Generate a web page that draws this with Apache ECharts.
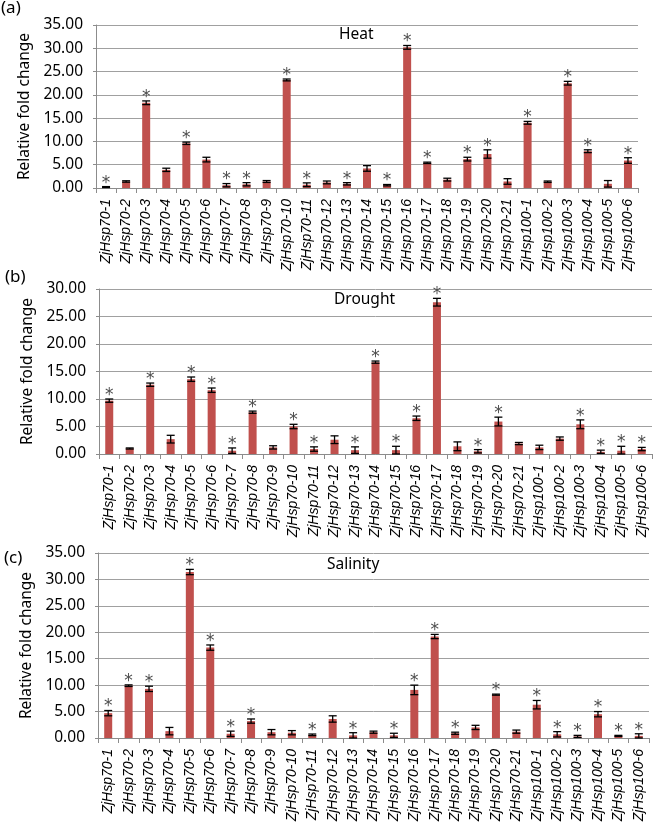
<!DOCTYPE html>
<html>
<head>
<meta charset="utf-8">
<script src="https://cdn.jsdelivr.net/npm/echarts@6/dist/echarts.min.js"></script>
<style>
html,body{margin:0;padding:0;background:#fff;}
#chart{width:657px;height:830px;}
</style>
</head>
<body>
<div id="chart"></div>
<script>
const categories = ['ZjHsp70-1','ZjHsp70-2','ZjHsp70-3','ZjHsp70-4','ZjHsp70-5','ZjHsp70-6','ZjHsp70-7','ZjHsp70-8','ZjHsp70-9','ZjHsp70-10','ZjHsp70-11','ZjHsp70-12','ZjHsp70-13','ZjHsp70-14','ZjHsp70-15','ZjHsp70-16','ZjHsp70-17','ZjHsp70-18','ZjHsp70-19','ZjHsp70-20','ZjHsp70-21','ZjHsp100-1','ZjHsp100-2','ZjHsp100-3','ZjHsp100-4','ZjHsp100-5','ZjHsp100-6'];

const heatValues = [0.2,1.4,18.3,3.9,9.6,6.1,0.6,0.8,1.4,23.2,0.7,1.2,0.9,4.2,0.6,30.2,5.4,1.8,6.2,7.3,1.4,14.0,1.35,22.5,7.9,0.9,5.9];
const heatErrors = [0.1,0.15,0.4,0.35,0.25,0.5,0.35,0.35,0.2,0.2,0.4,0.3,0.25,0.6,0.15,0.4,0.15,0.3,0.4,0.9,0.6,0.3,0.15,0.4,0.3,0.7,0.6];
const heatSig = [1,0,1,0,1,0,1,1,0,1,1,0,1,0,1,1,1,0,1,1,0,1,0,1,1,0,1];

const droughtValues = [9.7,1.0,12.6,2.7,13.6,11.6,0.6,7.6,1.2,5.0,0.9,2.6,0.7,16.7,0.7,6.5,27.6,1.4,0.5,5.9,1.9,1.2,2.8,5.4,0.4,0.6,0.9];
const droughtErrors = [0.3,0.1,0.3,0.7,0.4,0.4,0.5,0.2,0.3,0.4,0.4,0.7,0.6,0.2,0.7,0.4,0.7,0.8,0.3,0.8,0.2,0.4,0.3,0.8,0.3,0.8,0.3];
const droughtSig = [1,0,1,0,1,1,1,1,0,1,1,0,1,1,1,1,1,0,1,1,0,0,0,1,1,1,1];

const salinityValues = [4.7,9.9,9.3,1.3,31.4,17.1,0.8,3.2,1.1,1.0,0.6,3.6,0.5,1.1,0.5,9.1,19.2,0.9,2.0,8.2,1.2,6.3,0.7,0.3,4.5,0.4,0.4];
const salinityErrors = [0.5,0.15,0.5,0.7,0.5,0.5,0.5,0.4,0.5,0.4,0.15,0.6,0.5,0.2,0.4,0.9,0.4,0.2,0.4,0.1,0.3,0.8,0.5,0.2,0.5,0.1,0.4];
const salinitySig = [1,1,1,0,1,1,1,1,0,0,1,0,1,0,1,1,1,1,0,1,0,1,1,1,1,1,1];

const yMax = [35, 30, 35];
const panelTitles = ['Heat','Drought','Salinity'];
const panelLetters = ['(a)','(b)','(c)'];

const grids = [
  {left:96, right:19, top:25, height:163},
  {left:99, right:5, top:289, height:165},
  {left:98, right:8, top:553, height:185}
];

const barColor = '#c0504d';
const gridColor = '#a0a0a0';
const axisColor = '#8c8c8c';
const sans = 'Noto Sans';

function xAxis(i){
  return {
    type:'category', gridIndex:i, data:categories,
    axisLine:{lineStyle:{color:axisColor}},
    axisTick:{show:true, length:5, lineStyle:{color:axisColor}},
    axisLabel:{rotate:90, interval:0, margin:11, fontFamily:'Liberation Sans', fontStyle:'italic', fontSize:14, color:'#000'}
  };
}
function yAxis(i){
  return {
    type:'value', gridIndex:i, min:0, max:yMax[i], interval:5,
    name:'Relative fold change', nameLocation:'middle', nameGap:60, nameRotate:90,
    nameTextStyle:{fontFamily:sans, fontSize:15.5, color:'#000'},
    axisLine:{show:true, lineStyle:{color:axisColor}},
    axisTick:{show:true, length:3, lineStyle:{color:axisColor}},
    axisLabel:{formatter:v=>v.toFixed(2), margin:13, fontFamily:sans, fontSize:15.5, color:'#000'},
    splitLine:{lineStyle:{color:gridColor, width:1}}
  };
}
function barSeries(i, vals){
  return {type:'bar', xAxisIndex:i, yAxisIndex:i, data:vals, barWidth:8, itemStyle:{color:barColor}, silent:true, animation:false};
}
function errSeries(i, vals, errs, sig){
  return {
    type:'custom', xAxisIndex:i, yAxisIndex:i, animation:false, silent:true, z:10,
    data: vals.map((v,k)=>[k, v, errs[k], sig[k]]),
    renderItem:function(params, api){
      const k = api.value(0), v = api.value(1), e = api.value(2), s = api.value(3);
      const lo = api.coord([k, Math.max(0, v - e)]);
      const hi = api.coord([k, v + e]);
      const cw = 4;
      const st = {stroke:'#000', lineWidth:1.3};
      const ch = [
        {type:'line', shape:{x1:hi[0], y1:hi[1], x2:lo[0], y2:lo[1]}, style:st},
        {type:'line', shape:{x1:hi[0]-cw, y1:hi[1], x2:hi[0]+cw, y2:hi[1]}, style:st},
        {type:'line', shape:{x1:lo[0]-cw, y1:lo[1], x2:lo[0]+cw, y2:lo[1]}, style:st}
      ];
      if (s) ch.push({type:'text', style:{text:'*', x:hi[0], y:hi[1]+5, textAlign:'center', textVerticalAlign:'bottom', fontSize:17, fontFamily:'DejaVu Sans', fill:'#4d4d4d'}});
      return {type:'group', children:ch};
    }
  };
}

const titlePos = [{left:339, top:27},{left:334, top:292},{left:327, top:557}];
const letterPos = [{left:1, top:0},{left:5, top:269},{left:4, top:550}];

const titles = [];
for (let i=0;i<3;i++){
  titles.push({text:panelTitles[i], left:titlePos[i].left, top:titlePos[i].top, padding:0, textStyle:{fontFamily:sans, fontSize:15.5, fontWeight:'normal', color:'#000'}});
  titles.push({text:panelLetters[i], left:letterPos[i].left, top:letterPos[i].top, padding:0, textStyle:{fontFamily:sans, fontSize:17, fontWeight:'normal', color:'#000'}});
}

const chart = echarts.init(document.getElementById('chart'));
chart.setOption({
  animation:false,
  backgroundColor:'#fff',
  title:titles,
  grid:grids,
  xAxis:[xAxis(0), xAxis(1), xAxis(2)],
  yAxis:[yAxis(0), yAxis(1), yAxis(2)],
  series:[
    barSeries(0, heatValues), errSeries(0, heatValues, heatErrors, heatSig),
    barSeries(1, droughtValues), errSeries(1, droughtValues, droughtErrors, droughtSig),
    barSeries(2, salinityValues), errSeries(2, salinityValues, salinityErrors, salinitySig)
  ]
});
</script>
</body>
</html>
